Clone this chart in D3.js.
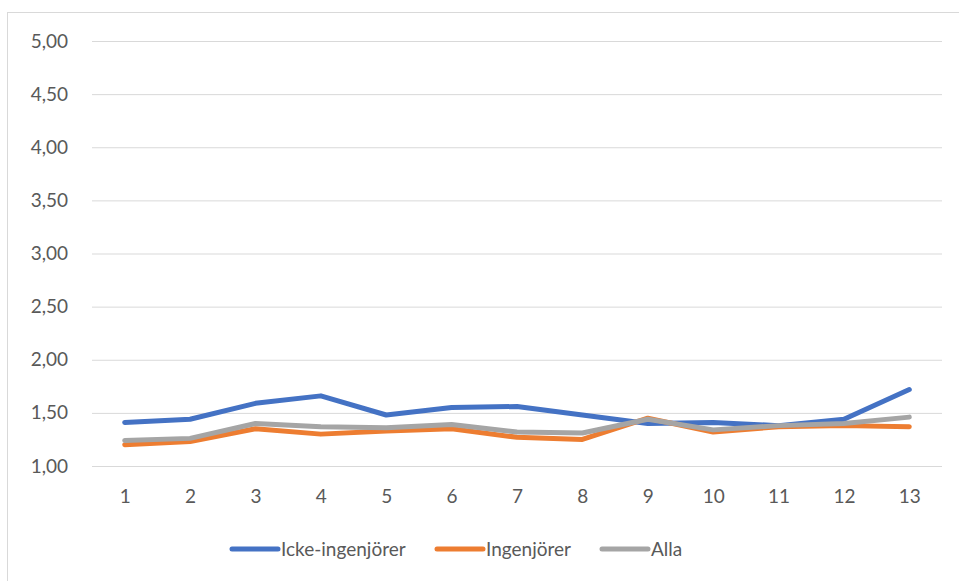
<!DOCTYPE html>
<html>
<head>
<meta charset="utf-8">
<script src="https://cdn.jsdelivr.net/npm/d3@7"></script>
<style>
  html, body { margin: 0; padding: 0; background: #fff; }
  svg text { font-family: Lato, "Open Sans", sans-serif; fill: #595959; }
</style>
</head>
<body>
<svg id="chart" width="959" height="581"></svg>
<script>
// Kategorier (frågor 1–13) och medelvärden per grupp
const categories = ["1","2","3","4","5","6","7","8","9","10","11","12","13"];
const ickeIngenjorer = [1.41, 1.44, 1.59, 1.66, 1.48, 1.55, 1.56, 1.48, 1.40, 1.41, 1.38, 1.44, 1.72];
const ingenjorer     = [1.20, 1.23, 1.35, 1.30, 1.33, 1.35, 1.27, 1.25, 1.45, 1.32, 1.37, 1.38, 1.37];
const alla           = [1.24, 1.26, 1.40, 1.37, 1.36, 1.39, 1.32, 1.31, 1.44, 1.34, 1.38, 1.40, 1.46];
const yTicks = [1.0, 1.5, 2.0, 2.5, 3.0, 3.5, 4.0, 4.5, 5.0];
const seriesNames = ["Icke-ingenjörer", "Ingenjörer", "Alla"];
const seriesColors = ["#4472C4", "#ED7D31", "#A5A5A5"];

const series = [ickeIngenjorer, ingenjorer, alla].map((values, i) => ({
  name: seriesNames[i], color: seriesColors[i], values
}));

const svg = d3.select("#chart");
const W = 959, H = 581;
const FONT = 19;
const LINE_W = 5;

// Chart frame
svg.append("rect")
  .attr("x", 7.5).attr("y", 12.5)
  .attr("width", W - 7).attr("height", H)
  .attr("fill", "#fff").attr("stroke", "#D9D9D9").attr("stroke-width", 1);

const plot = { left: 92, right: 942, top: 41, bottom: 466 };

const x = d3.scalePoint()
  .domain(categories)
  .range([plot.left, plot.right])
  .padding(0.5);

const y = d3.scaleLinear()
  .domain([1, 5])
  .range([plot.bottom, plot.top]);

const fmt = v => d3.format(".2f")(v).replace(".", ",");

// Horizontal gridlines with value labels
const yAxis = d3.axisLeft(y)
  .tickValues(yTicks)
  .tickSize(-(plot.right - plot.left))
  .tickPadding(24)
  .tickFormat(fmt);

const gy = svg.append("g")
  .attr("transform", `translate(${plot.left},0)`)
  .call(yAxis);
gy.select(".domain").remove();
gy.selectAll(".tick line").attr("stroke", "#D9D9D9").attr("stroke-width", 1);
gy.selectAll(".tick text").attr("font-size", FONT).style("fill", "#595959");

// Category labels
const xAxis = d3.axisBottom(x).tickSize(0).tickPadding(24);
const gx = svg.append("g")
  .attr("transform", `translate(0,${plot.bottom})`)
  .call(xAxis);
gx.select(".domain").remove();
gx.selectAll(".tick text").attr("font-size", FONT).style("fill", "#595959");

// Lines
const line = d3.line()
  .x((d, i) => x(categories[i]))
  .y(d => y(d));

svg.append("g").selectAll("path")
  .data(series)
  .join("path")
  .attr("d", d => line(d.values))
  .attr("fill", "none")
  .attr("stroke", d => d.color)
  .attr("stroke-width", LINE_W)
  .attr("stroke-linejoin", "round")
  .attr("stroke-linecap", "round");

// Legend
const legendItems = [
  { x: 232, w: 46 },
  { x: 437, w: 46 },
  { x: 602, w: 46 }
];
const lg = svg.append("g").attr("transform", "translate(0,549)");
series.forEach((s, i) => {
  const it = lg.append("g").attr("transform", `translate(${legendItems[i].x},0)`);
  it.append("line")
    .attr("x1", 0).attr("x2", legendItems[i].w)
    .attr("y1", 0).attr("y2", 0)
    .attr("stroke", s.color).attr("stroke-width", LINE_W)
    .attr("stroke-linecap", "round");
  it.append("text")
    .attr("x", legendItems[i].w + 3)
    .attr("y", 0)
    .attr("dy", "0.35em")
    .attr("font-size", FONT)
    .text(s.name);
});
</script>
</body>
</html>
